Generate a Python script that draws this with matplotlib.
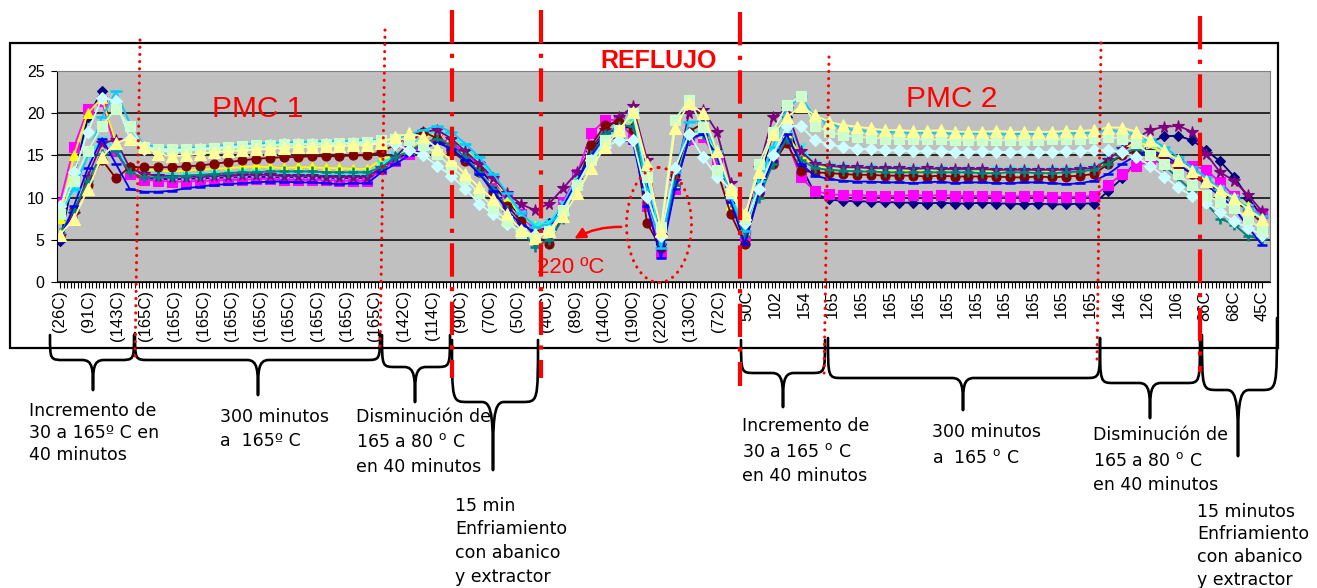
import numpy as np
import matplotlib.pyplot as plt
from matplotlib.path import Path
from matplotlib.patches import PathPatch, Ellipse, Rectangle

# category labels under the x axis
labels = (["(26C)", "(91C)", "(143C)"] + ["(165C)"] * 9 +
          ["(142C)", "(114C)", "(90C)", "(70C)", "(50C)", "(40C)", "(89C)",
           "(140C)", "(190C)", "(220C)", "(130C)", "(72C)", "50C", "102", "154"] +
          ["165"] * 10 + ["146", "126", "106", "86C", "68C", "45C"])

# one reading every half label step
navy = [4.9, 12.5, 19.5, 22.6, 15.5, 12.8, 12.3,
        12.2, 12.2, 12.2, 12.3, 12.3, 12.4, 12.4, 12.5, 12.4, 12.4, 12.4, 12.4, 12.3, 12.3, 12.3, 12.3,
        13.6, 14.5, 15.3, 16.3, 16.8, 16.2, 15.0, 13.5, 11.5, 9.5, 7.8, 6.5,
        7.0, 9.0, 12.4, 15.5, 17.6, 18.2, 18.4, 12.0, 4.5, 11.5, 16.8, 17.8, 15.5, 10.5, 5.0, 12.0, 17.5, 19.5, 13.8,
        10.5, 9.8, 9.6, 9.6, 9.5, 9.5, 9.4, 9.4, 9.3, 9.4, 9.3, 9.3, 9.4, 9.3, 9.3, 9.2, 9.3, 9.2, 9.2, 9.3, 9.3,
        10.8, 12.3, 14.3, 16.5, 17.3, 17.3, 16.8, 15.6, 14.3, 12.5, 10.0, 7.8]
magenta = [9.4, 16.0, 20.5, 21.5, 15.5, 12.8, 12.1,
           12.0, 11.9, 11.9, 12.0, 12.0, 12.1, 12.1, 12.2, 12.2, 12.1, 12.1, 12.1, 12.1, 12.0, 12.0, 12.0,
           13.4, 14.3, 15.2, 16.2, 17.0, 16.5, 15.3, 13.8, 12.0, 10.2, 8.0, 6.0,
           6.5, 9.5, 12.8, 17.6, 19.2, 19.2, 17.0, 9.0, 3.6, 11.0, 17.0, 17.2, 14.5, 10.0, 5.5, 11.0, 14.5, 16.8, 12.4,
           10.8, 10.4, 10.3, 10.3, 10.2, 10.2, 10.2, 10.3, 10.2, 10.3, 10.2, 10.2, 10.2, 10.2, 10.1, 10.2, 10.2, 10.1, 10.1, 10.1, 10.2,
           11.5, 12.8, 13.8, 14.3, 14.2, 14.0, 13.8, 13.3, 11.8, 10.2, 8.6, 8.2]
yellow = [7.6, 15.0, 20.0, 21.8, 16.5, 13.6, 13.3,
          13.2, 13.1, 13.2, 13.3, 13.4, 13.5, 13.6, 13.7, 13.6, 13.5, 13.6, 13.6, 13.5, 13.5, 13.4, 13.4,
          14.5, 15.0, 15.8, 17.0, 17.8, 17.2, 15.8, 14.2, 12.4, 10.0, 7.8, 6.6,
          6.8, 9.0, 12.5, 15.8, 18.5, 19.0, 19.5, 14.0, 4.5, 11.5, 17.5, 17.6, 15.5, 9.3, 6.0, 11.0, 15.0, 17.5, 15.0,
          13.8, 13.4, 13.3, 13.2, 13.2, 13.2, 13.1, 13.2, 13.1, 13.1, 13.1, 13.0, 13.1, 13.0, 13.0, 13.0, 13.0, 13.0, 13.0, 13.1, 13.2,
          14.5, 15.8, 16.5, 16.2, 15.2, 14.0, 13.0, 11.8, 10.8, 10.0, 9.0, 7.6]
cyan = [8.0, 11.0, 15.0, 16.8, 16.0, 13.5, 12.8,
        12.7, 12.6, 12.6, 12.7, 12.8, 12.8, 12.9, 12.9, 12.9, 12.8, 12.8, 12.8, 12.7, 12.7, 12.8, 12.8,
        14.0, 15.0, 16.0, 17.2, 18.0, 17.3, 16.0, 14.4, 12.5, 10.3, 8.0, 6.8,
        7.0, 9.2, 12.5, 16.0, 18.2, 19.0, 19.5, 12.5, 5.0, 12.0, 18.0, 17.6, 15.8, 10.5, 6.5, 11.0, 15.5, 18.5, 16.0,
        14.0, 13.7, 13.6, 13.5, 13.5, 13.4, 13.4, 13.4, 13.4, 13.4, 13.3, 13.3, 13.3, 13.3, 13.3, 13.3, 13.2, 13.3, 13.3, 13.4, 13.5,
        15.0, 16.2, 16.8, 16.5, 15.5, 14.4, 13.3, 12.1, 11.0, 10.0, 8.8, 7.5]
purple = [5.5, 8.0, 12.5, 16.5, 16.8, 13.5, 12.8,
          12.6, 12.5, 12.5, 12.5, 12.6, 12.6, 12.7, 12.7, 12.7, 12.6, 12.6, 12.6, 12.5, 12.5, 12.5, 12.5,
          13.5, 14.8, 16.5, 17.8, 18.0, 17.0, 15.5, 14.0, 12.3, 10.5, 9.2, 8.5,
          9.3, 11.1, 13.0, 15.8, 18.0, 19.5, 20.8, 14.5, 5.5, 12.0, 20.0, 20.4, 17.8, 11.7, 7.0, 13.5, 19.5, 20.5, 15.5,
          14.0, 13.8, 13.6, 13.6, 13.5, 13.5, 13.5, 13.4, 13.5, 13.4, 13.4, 13.4, 13.4, 13.3, 13.3, 13.3, 13.3, 13.3, 13.3, 13.4, 13.5,
          14.5, 15.8, 17.0, 18.0, 18.4, 18.5, 17.8, 15.2, 13.0, 12.0, 10.3, 8.4]
maroon = [5.5, 8.5, 11.5, 14.5, 12.3, 13.6, 13.6,
          13.6, 13.6, 13.7, 13.8, 14.0, 14.2, 14.4, 14.6, 14.7, 14.8, 14.8, 14.9, 14.9, 14.9, 15.0, 15.0,
          15.4, 16.3, 17.3, 17.8, 17.0, 15.5, 14.3, 13.0, 10.5, 9.0, 7.2, 5.5,
          4.5, 8.0, 11.5, 16.2, 18.6, 19.0, 18.0, 7.0, 4.0, 12.7, 17.8, 18.8, 13.3, 8.0, 4.5, 10.5, 14.0, 16.5, 13.2,
          13.0, 12.9, 12.8, 12.7, 12.7, 12.6, 12.6, 12.6, 12.5, 12.6, 12.5, 12.5, 12.5, 12.5, 12.4, 12.4, 12.5, 12.4, 12.5, 12.6, 12.8,
          14.0, 15.0, 15.5, 15.3, 14.6, 13.8, 12.8, 11.8, 10.6, 9.6, 8.5, 7.0]
teal = [5.8, 8.5, 12.0, 15.2, 15.5, 13.0, 12.4,
        12.4, 12.5, 12.6, 12.7, 12.8, 12.9, 13.0, 13.0, 13.1, 13.1, 13.1, 13.1, 13.0, 13.0, 13.0, 13.0,
        13.6, 14.8, 15.5, 16.5, 17.0, 16.2, 14.8, 13.0, 11.0, 8.5, 6.0, 4.2,
        5.0, 7.5, 11.0, 15.0, 17.5, 18.5, 18.5, 10.0, 4.5, 11.5, 17.0, 17.5, 15.0, 9.5, 5.5, 10.0, 14.0, 17.0, 14.5,
        13.5, 13.3, 13.2, 13.1, 13.1, 13.0, 13.0, 13.0, 13.0, 13.0, 13.0, 13.0, 12.9, 12.9, 13.0, 13.0, 12.9, 12.9, 13.0, 13.1, 13.3,
        14.0, 15.2, 15.8, 15.0, 13.8, 12.3, 10.8, 9.3, 7.5, 6.8, 5.4, 5.1]
blue = [4.9, 9.0, 13.5, 17.0, 14.0, 11.0, 10.7,
        10.7, 10.8, 11.1, 11.3, 11.5, 11.6, 11.7, 11.8, 11.9, 11.9, 11.8, 11.8, 11.7, 11.6, 11.7, 11.7,
        13.0, 14.0, 15.0, 15.8, 16.5, 15.8, 14.5, 12.8, 10.8, 8.5, 6.8, 6.0,
        6.5, 9.0, 12.0, 15.0, 17.0, 17.0, 16.5, 9.0, 2.8, 11.0, 17.0, 17.5, 15.0, 9.5, 4.5, 10.5, 14.5, 17.5, 14.0,
        12.6, 12.2, 12.0, 11.9, 11.9, 11.8, 11.8, 11.7, 11.8, 11.9, 11.7, 11.8, 11.8, 11.7, 11.7, 11.8, 11.8, 11.7, 11.6, 11.7, 12.0,
        12.8, 14.0, 15.0, 15.6, 15.0, 14.0, 12.8, 11.5, 10.2, 8.8, 6.5, 4.4]
sky = [8.5, 11.0, 15.0, 19.5, 22.6, 18.8, 16.2,
       16.0, 15.9, 15.9, 16.0, 16.1, 16.2, 16.3, 16.4, 16.5, 16.5, 16.6, 16.6, 16.7, 16.7, 16.7, 16.8,
       16.8, 17.0, 17.5, 18.0, 18.5, 17.8, 16.4, 14.8, 12.8, 10.5, 8.2, 6.5,
       6.8, 8.5, 11.5, 14.5, 17.0, 18.0, 20.0, 11.0, 4.0, 13.0, 19.0, 19.0, 15.5, 10.0, 6.0, 12.0, 16.0, 20.5, 22.0,
       19.5, 18.8, 18.2, 18.0, 17.8, 17.8, 17.7, 17.7, 17.7, 17.6, 17.6, 17.6, 17.6, 17.5, 17.5, 17.6, 17.5, 17.5, 17.6, 17.6, 17.7,
       18.0, 17.8, 17.5, 17.0, 16.0, 14.8, 13.6, 12.4, 11.0, 10.0, 8.8, 7.8]
light_cyan = [9.0, 13.0, 17.8, 21.8, 21.5, 17.0, 15.8,
              15.6, 15.5, 15.6, 15.7, 15.8, 15.9, 16.0, 16.1, 16.2, 16.3, 16.3, 16.4, 16.4, 16.4, 16.5, 16.5,
              16.5, 16.3, 15.6, 15.0, 13.8, 12.6, 11.0, 9.3, 8.0, 6.9, 6.0, 5.6,
              6.0, 8.0, 11.5, 14.4, 16.0, 16.8, 16.8, 10.1, 5.5, 13.5, 17.5, 14.8, 12.5, 11.0, 7.0, 11.0, 15.0, 18.5, 18.5,
              16.8, 16.3, 16.0, 15.8, 15.7, 15.6, 15.6, 15.5, 15.5, 15.5, 15.4, 15.4, 15.5, 15.4, 15.4, 15.5, 15.4, 15.4, 15.5, 15.5, 15.6,
              15.6, 15.4, 14.8, 13.8, 12.5, 11.2, 10.2, 9.4, 8.3, 7.2, 6.4, 5.6]
light_green = [8.0, 12.0, 15.5, 18.5, 20.5, 18.5, 16.0,
               15.8, 15.7, 15.7, 15.8, 15.9, 16.0, 16.1, 16.2, 16.2, 16.3, 16.3, 16.4, 16.4, 16.5, 16.5, 16.6,
               16.8, 17.0, 16.8, 16.2, 15.2, 13.6, 12.2, 10.5, 8.8, 7.2, 5.8, 5.2,
               6.0, 8.5, 11.5, 14.4, 16.8, 18.0, 20.0, 12.5, 6.5, 19.2, 21.6, 18.4, 13.3, 10.5, 7.5, 14.0, 17.8, 21.0, 22.0,
               18.5, 17.8, 17.4, 17.2, 17.1, 17.0, 17.0, 16.9, 16.9, 16.9, 16.8, 16.8, 16.8, 16.8, 16.8, 16.8, 16.8, 16.9, 16.9, 17.0, 17.1,
               17.2, 17.0, 16.5, 15.0, 14.0, 12.8, 11.5, 10.3, 9.5, 8.8, 7.5, 6.2]
light_yellow = [5.6, 7.5, 11.0, 14.8, 16.5, 17.0, 16.0,
                15.2, 14.9, 15.0, 15.2, 15.4, 15.5, 15.6, 15.7, 15.8, 15.9, 16.0, 16.0, 16.1, 16.1, 16.2, 16.2,
                16.5, 17.2, 17.6, 17.2, 15.8, 14.4, 12.8, 11.2, 9.8, 8.0, 6.2, 5.2,
                6.0, 7.8, 10.5, 13.5, 16.0, 18.0, 20.2, 14.0, 6.0, 18.2, 21.2, 20.0, 15.5, 11.0, 8.0, 13.0, 17.5, 19.5, 20.8,
                19.8, 19.0, 18.6, 18.4, 18.2, 18.0, 18.0, 17.9, 17.9, 18.0, 17.8, 17.8, 17.8, 17.9, 17.8, 17.8, 17.8, 17.8, 17.9, 17.9, 18.0,
                18.3, 18.3, 17.8, 16.8, 15.6, 14.4, 13.2, 12.0, 10.9, 9.9, 8.6, 7.5]

series = [
    (navy, "#000080", "D", 5.5),
    (magenta, "#FF00FF", "s", 6.5),
    (yellow, "#FFFF00", "^", 7.5),
    (cyan, "#00FFFF", "x", 6),
    (purple, "#800080", "*", 8.5),
    (maroon, "#800000", "o", 6.5),
    (teal, "#008080", "+", 7),
    (blue, "#0000FF", "_", 7),
    (sky, "#00CCFF", "_", 9),
    (light_cyan, "#CCFFFF", "D", 6),
    (light_green, "#CCFFCC", "s", 7),
    (light_yellow, "#FFFF99", "^", 8),
]

W, H = 1317, 588
fig = plt.figure(figsize=(W / 100, H / 100), dpi=100)
ax = fig.add_axes([57 / W, 1 - 282 / H, (1270 - 57) / W, (282 - 71) / H])
n = len(navy)
x = np.arange(n)
for vals, col, mk, ms in series:
    ax.plot(x, vals, color=col, marker=mk, ms=ms, mfc=col, mec=col,
            mew=1.8 if mk in "x+_" else 0.8, lw=1.3)

ax.set_facecolor("#C0C0C0")
ax.set_ylim(0, 25)
ax.set_xlim(-0.21, n - 1 + 0.57)
ax.set_yticks(range(0, 26, 5))
ax.set_xticks(np.linspace(0, n - 1, len(labels)))
ax.set_xticklabels(labels, rotation=90, fontsize=12, family="Liberation Sans")
ax.set_xticks(np.linspace(0, n - 1, (len(labels) - 1) * 8 + 1), minor=True)
ax.tick_params(axis="x", which="both", direction="out", length=4, width=0.8, pad=2)
ax.tick_params(axis="y", direction="out", length=4, width=0.8, pad=5, labelsize=11.5)
for t in ax.get_yticklabels():
    t.set_family("Liberation Sans")
ax.yaxis.grid(True, color="black", lw=1.1)
ax.set_axisbelow(True)
ax.spines["top"].set_color("#808080")
ax.spines["right"].set_color("#808080")

# overlay in pixel units for annotations
ov = fig.add_axes([0, 0, 1, 1], facecolor="none")
ov.set_xlim(0, W)
ov.set_ylim(H, 0)
ov.axis("off")
ov.add_patch(Rectangle((10, 43), 1268, 305, fill=False, ec="black", lw=1.6))

red = "#FF0000"
for xt, yt, xb, yb in [(140, 40, 135, 360), (385, 30, 380, 350), (829, 57, 824, 378), (1101, 43, 1097, 362)]:
    ov.plot([xt, xb], [yt, yb], color=red, lw=2.2, ls=(0, (0.05, 2.3)), dash_capstyle="round")
for xl, yt, yb in [(452, 10, 378), (541, 10, 378), (740, 12, 386), (1200, 16, 372)]:
    ov.plot([xl, xl], [yt, yb], color=red, lw=3, ls=(0, (8, 2.5, 1, 2.5)))

ov.add_patch(Ellipse((659, 225), 65, 115, fill=False, ec=red, lw=2.2,
                     ls=(0, (0.05, 2.3)), capstyle="round"))
ov.annotate("", xy=(572, 240), xytext=(624, 227),
            arrowprops=dict(arrowstyle="-|>", color=red, lw=1.8, mutation_scale=16,
                            connectionstyle="arc3,rad=0.15"))

ov.text(258, 117, "PMC 1", color=red, fontsize=21.5, family="Liberation Sans", ha="center", va="baseline")
ov.text(952, 107, "PMC 2", color=red, fontsize=21.5, family="Liberation Sans", ha="center", va="baseline")
ov.text(659, 68, "REFLUJO", color=red, fontsize=18, family="Liberation Sans", weight="bold",
        ha="center", va="baseline")
ov.text(537, 273, "220 ºC", color=red, fontsize=16, family="Liberation Sans", ha="left", va="baseline")


def brace(x0, x1, ytop0, ytop1, yh, xt, yt, r=14, c=11):
    ym = yh + 0.3 * (yt - yh)
    verts = [(x0, ytop0), (x0, yh), (x0, yh), (x0 + r, yh), (xt - c, yh),
             (xt, yh), (xt, ym), (xt, yt),
             (xt, ym), (xt, yh), (xt + c, yh), (x1 - r, yh),
             (x1, yh), (x1, yh), (x1, ytop1)]
    codes = [Path.MOVETO, Path.CURVE4, Path.CURVE4, Path.CURVE4, Path.LINETO,
             Path.CURVE4, Path.CURVE4, Path.CURVE4,
             Path.CURVE4, Path.CURVE4, Path.CURVE4, Path.LINETO,
             Path.CURVE4, Path.CURVE4, Path.CURVE4]
    ov.add_patch(PathPatch(Path(verts, codes), fill=False, ec="black", lw=1.9,
                           capstyle="round", joinstyle="round"))


brace(50, 134, 335, 335, 360, 93, 390)
brace(135, 380, 333, 333, 360, 258, 395)
brace(382, 450, 335, 335, 367, 415, 402)
brace(452, 538, 340, 340, 402, 493, 470, r=16)
brace(741, 825, 340, 340, 373, 783, 407)
brace(828, 1100, 338, 338, 378, 963, 410)
brace(1100, 1200, 338, 338, 383, 1150, 418)
brace(1202, 1277, 335, 318, 390, 1238, 456, r=16)

notes = [
    (29, [("Incremento de", 416), ("30 a 165º C en", 438), ("40 minutos", 460)]),
    (220, [("300 minutos", 422), ("a  165º C", 446)]),
    (356, [("Disminución de", 422), ("165 a 80 $^{\\mathrm{o}}$ C", 447), ("en 40 minutos", 472)]),
    (455, [("15 min", 511), ("Enfriamiento", 534), ("con abanico", 558), ("y extractor", 582)]),
    (742, [("Incremento de", 431), ("30 a 165 $^{\\mathrm{o}}$ C", 457), ("en 40 minutos", 481)]),
    (932, [("300 minutos", 437), ("a  165 $^{\\mathrm{o}}$ C", 463)]),
    (1093, [("Disminución de", 440), ("165 a 80 $^{\\mathrm{o}}$ C", 466), ("en 40 minutos", 490)]),
    (1197, [("15 minutos", 517), ("Enfriamiento", 539), ("con abanico", 562), ("y extractor", 585)]),
]
for xl, lines in notes:
    for txt, yb in lines:
        ov.text(xl, yb, txt, fontsize=12.5, family="DejaVu Sans", ha="left", va="baseline")

fig.savefig("out.png", dpi=100)
